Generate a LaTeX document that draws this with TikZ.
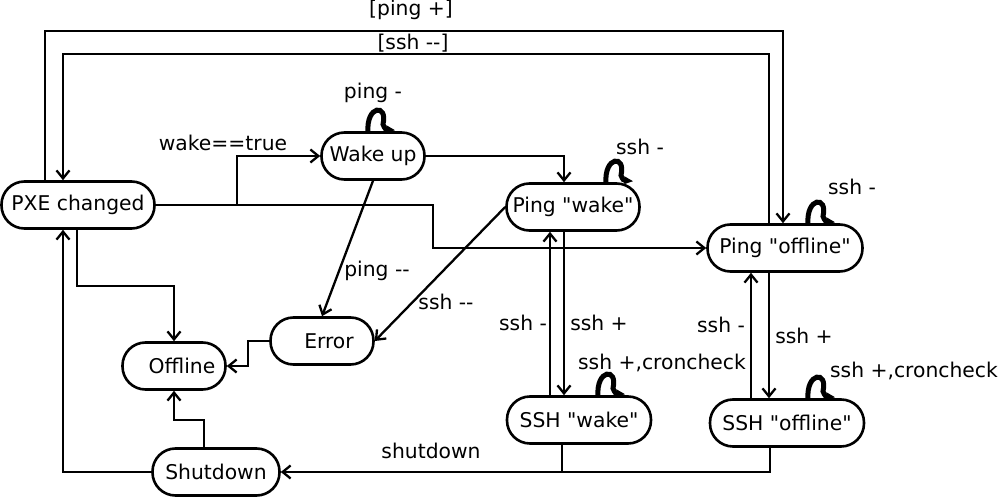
\documentclass[tikz,border=0pt]{standalone}
\usepackage{fontspec}
\newfontfamily\dvf{DejaVu Sans}
\usetikzlibrary{arrows.meta,calc}
\newcommand\mydd{-\kern0pt-}
\begin{document}
\begin{tikzpicture}[x=1pt,y=-1pt,
 st/.style={draw,line width=2.6pt,rounded corners=23pt,minimum height=47pt,inner sep=0pt,font=\dvf\fontsize{20.3}{24}\selectfont},
 lbl/.style={inner sep=0pt,font=\dvf\fontsize{20.3}{24}\selectfont},
 ln/.style={line width=2.3pt},
 ar/.style={ln,-{Straight Barb[length=8pt,width=13pt,line width=2.3pt]}},
 selfloop/.style={line width=5pt,-{Stealth[length=9pt,width=8pt]}},
 curl/.pic={\draw[selfloop] (0,1) .. controls (-2,-26) and (20,-28) .. (15,-7) .. controls (17,-2) .. (27,-1);}]
\useasboundingbox (0,0) rectangle (999,497);
% states
\node[st,minimum width=153pt] (pxe) at (78,205) {PXE changed};
\node[st,minimum width=103pt] (wake) at (373,156) {Wake up};
\node[st,minimum width=133pt] (pingw) at (573,207) {Ping "wake"};
\node[st,minimum width=155pt] (pingo) at (785,248) {Ping "offline"};
\node[st,minimum width=103pt] (err) at (322,341) {\hspace*{14pt}Error};
\node[st,minimum width=103pt] (off) at (174,366) {\hspace*{16pt}Offline};
\node[st,minimum width=144pt] (sshw) at (579,420) {SSH "wake"};
\node[st,minimum width=154pt] (ssho) at (787,423) {SSH "offline"};
\node[st,minimum width=127pt] (shut) at (216,472) {Shutdown};
% helper coordinates
\coordinate (pA) at (45,31); \coordinate (pB) at (783,31);
\coordinate (sA) at (769,54); \coordinate (sB) at (63,54);
\coordinate (wA) at (237,205);
\coordinate (oA) at (433,205);
\coordinate (wpA) at (564,0);
\coordinate (vx1) at (550,0); \coordinate (vx2) at (564,0);
\coordinate (vx3) at (751,0); \coordinate (vx4) at (769,0);
\coordinate (eA) at (248,0);
\coordinate (poA) at (77,286);
\coordinate (soA) at (204,420);
\coordinate (spA) at (63,472);
\coordinate (bA) at (770,472); \coordinate (bB) at (562,472);
% connectors
\draw[ar] (pxe.north -| pA) -- (pA) -- (pB) -- (pingo.north -| pB);
\draw[ar] (pingo.north -| sA) -- (sA) -- (sB) -- (pxe.north -| sB);
\draw[ar] (pxe.east) -- (wA) |- (wake.west);
\draw[ar] (pxe.east) -- (oA) |- (pingo.west);
\draw[ar] (wake.east) -| (pingw.north -| wpA);
\draw[ar] (sshw.north -| vx1) -- (pingw.south -| vx1);
\draw[ar] (pingw.south -| vx2) -- (sshw.north -| vx2);
\draw[ar] (ssho.north -| vx3) -- (pingo.south -| vx3);
\draw[ar] (pingo.south -| vx4) -- (ssho.north -| vx4);
\draw[ar] (wake.south) -- (err.north);
\draw[ar] (pingw.west) -- (err.east);
\draw[ar] (err.west) -- (err.west -| eA) |- (off.east);
\draw[ar] (pxe.south -| poA) -- (poA) -| (off.north);
\draw[ar] (shut.north -| soA) -- (soA) -| (off.south);
\draw[ar] (shut.west) -- (spA) -- (pxe.south -| spA);
\draw[ar] (ssho.south -| bA) -- (bA) -- (shut.east);
\draw[ln] (sshw.south -| bB) -- (bB);
% self loops
\pic at ([xshift=-5pt]wake.north) {curl};
\pic at ([xshift=33pt]pingw.north) {curl};
\pic at ([xshift=23pt]pingo.north) {curl};
\pic at ([xshift=19pt]sshw.north) {curl};
\pic at ([xshift=21pt]ssho.north) {curl};
% labels
\node[lbl] (lpp) at (411,10) {[ping +]};
\node[lbl] (lsm) at (413,43) {[ssh \mydd]};
\node[lbl] (lpm) at (373,93) {ping -};
\node[lbl] (lwt) at (223,143) {wake==true};
\node[lbl] (lsw) at (640,147) {ssh -};
\node[lbl] (lso) at (852,187) {ssh -};
\node[lbl] (lpmm) at (377,271) {ping \mydd};
\node[lbl] (lsmm) at (446,302) {ssh \mydd};
\node[lbl] (l1) at (523,323) {ssh -};
\node[lbl] (l2) at (599,323) {ssh +};
\node[lbl] (l3) at (721,325) {ssh -};
\node[lbl] (l4) at (804,336) {ssh +};
\node[lbl] (l5) at (662,363) {ssh +,croncheck};
\node[lbl] (l6) at (914,371) {ssh +,croncheck};
\node[lbl] (l7) at (431,451) {shutdown};
\end{tikzpicture}
\end{document}
